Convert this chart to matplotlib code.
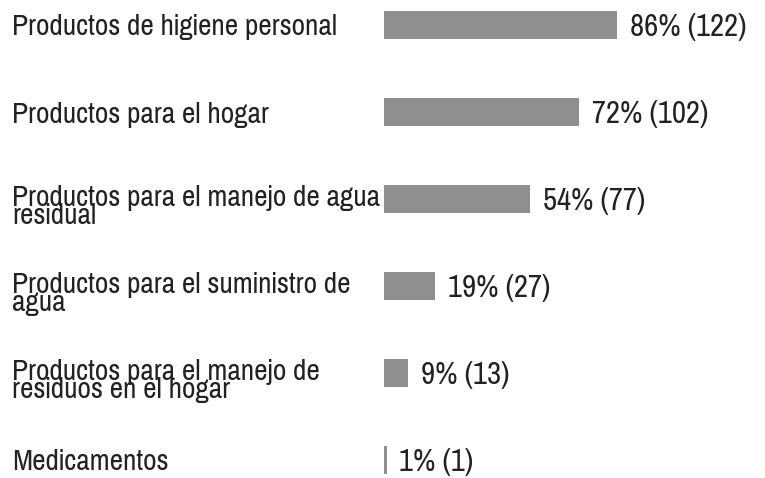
import matplotlib
matplotlib.use('Agg')
import matplotlib.pyplot as plt
from matplotlib.transforms import blended_transform_factory

categories = [
	'Productos de higiene personal',
	'Productos para el hogar',
	'Productos para el manejo de agua\nresidual',
	'Productos para el suministro de\nagua',
	'Productos para el manejo de\nresiduos en el hogar',
	'Medicamentos',
]
percents = [86, 72, 54, 19, 9, 1]
counts = [122, 102, 77, 27, 13, 1]

plt.rcParams['font.family'] = ['Pragati Narrow', 'Roboto Condensed', 'DejaVu Sans']

W, H = 765, 478
fig = plt.figure(figsize=(W/100, H/100), dpi=100)
# bars start at x=384px, 2.71 px per percent
x0 = 384
ppp = 2.71
ax = fig.add_axes([x0/W, 0, 1 - x0/W, 1])
ax.set_xlim(0, (W - x0)/ppp)
step = 87
top = 25
ax.set_ylim((H - top)/step, -top/step)
ax.axis('off')

ypos = list(range(len(categories)))
ax.barh(ypos, percents, height=28/step, color='#8f8f8f', left=0)

for y, p, c in zip(ypos, percents, counts):
	ax.annotate(f'{p}% ({c})', xy=(p, y), xytext=(9, -1.5), textcoords='offset points',
		va='center', ha='left', fontsize=24, color='#222222')

tr = blended_transform_factory(fig.transFigure, ax.transData)
for y, lab in zip(ypos, categories):
	# wrapped labels sit a bit lower than the bar centre
	dy = 8 if '\n' in lab else 2.5
	ax.text(12/W, y + dy/step, lab, transform=tr, va='center', ha='left', fontsize=23,
		color='#222222', linespacing=0.6, clip_on=False)

fig.savefig('out.png', dpi=100)
